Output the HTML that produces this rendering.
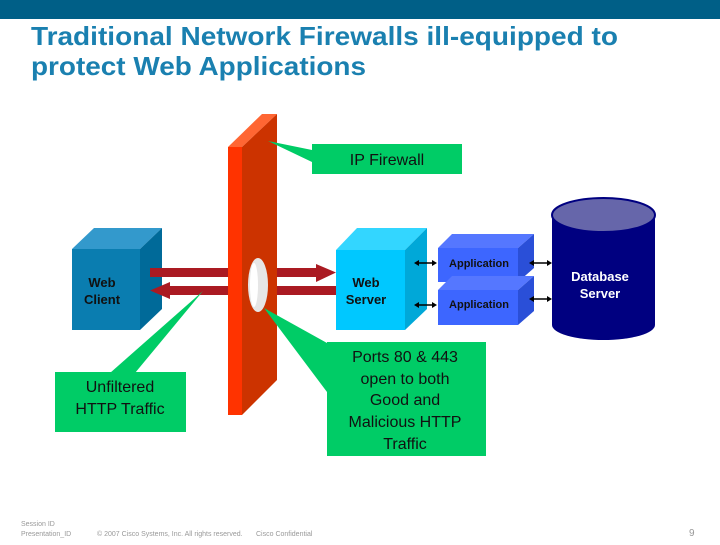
<!DOCTYPE html>
<html><head><style>
body{margin:0;width:720px;height:540px;overflow:hidden;background:#fff;font-family:"Liberation Sans",sans-serif;}
</style></head><body>
<svg width="720" height="540" viewBox="0 0 720 540" xmlns="http://www.w3.org/2000/svg" font-family="Liberation Sans, sans-serif">
<rect x="0" y="0" width="720" height="19" fill="#005f87"/>
<text x="31" y="45" font-size="26" font-weight="bold" fill="#1a80b0" textLength="587" lengthAdjust="spacingAndGlyphs">Traditional Network Firewalls ill-equipped to</text>
<text x="31" y="75" font-size="26" font-weight="bold" fill="#1a80b0" textLength="335" lengthAdjust="spacingAndGlyphs">protect Web Applications</text>

<!-- Web client cube -->
<polygon points="72,249 94,228 162,228 140,249" fill="#3399cc"/>
<polygon points="140,249 162,228 162,309 140,330" fill="#006a99"/>
<rect x="72" y="249" width="68" height="81" fill="#0a7db0"/>
<text x="102" y="287" font-size="13" font-weight="bold" fill="#111" text-anchor="middle">Web</text>
<text x="102" y="304" font-size="13" font-weight="bold" fill="#111" text-anchor="middle">Client</text>

<!-- Web server cube -->
<polygon points="336,250 357,228 427,228 405,250" fill="#33d6ff"/>
<polygon points="405,250 427,228 427,309 405,330" fill="#00a8d8"/>
<rect x="336" y="250" width="69" height="80" fill="#00c8ff"/>
<text x="366" y="287" font-size="13" font-weight="bold" fill="#111" text-anchor="middle">Web</text>
<text x="366" y="304" font-size="13" font-weight="bold" fill="#111" text-anchor="middle">Server</text>

<!-- arrows -->
<rect x="150" y="268" width="90" height="9" fill="#aa1a22"/>
<rect x="258" y="268" width="60" height="9" fill="#aa1a22"/>
<polygon points="316,264 336,272.5 316,282" fill="#aa1a22"/>
<rect x="168" y="286" width="80" height="9" fill="#aa1a22"/>
<rect x="258" y="286" width="78" height="9" fill="#aa1a22"/>
<polygon points="170,282 150,290.5 170,299" fill="#aa1a22"/>

<!-- firewall -->
<polygon points="228,147 262,114 277,114 242,147" fill="#ff6633"/>
<polygon points="242,147 277,114 277,380 242,415" fill="#cc3300"/>
<rect x="228" y="147" width="14" height="268" fill="#ff3300"/>
<ellipse cx="258" cy="285" rx="10" ry="27" fill="#e6e6e6"/>
<ellipse cx="254" cy="285" rx="4" ry="22" fill="#fff"/>

<!-- applications -->
<g>
<polygon points="438,248 452,234 534,234 518,248" fill="#5577ff"/>
<polygon points="518,248 534,234 534,268 518,282" fill="#2a4fd8"/>
<rect x="438" y="248" width="80" height="34" fill="#3d66ff"/>
<text x="479" y="267" font-size="11" font-weight="bold" fill="#111" text-anchor="middle">Application</text>
<polygon points="438,290 452,276 534,276 518,290" fill="#5577ff"/>
<polygon points="518,290 534,276 534,311 518,325" fill="#2a4fd8"/>
<rect x="438" y="290" width="80" height="35" fill="#3d66ff"/>
<text x="479" y="308" font-size="11" font-weight="bold" fill="#111" text-anchor="middle">Application</text>
</g>
<g stroke="#000" stroke-width="1.5" fill="#000">
<line x1="417" y1="263" x2="434" y2="263"/><line x1="417" y1="305" x2="434" y2="305"/>
<line x1="532" y1="263" x2="549" y2="263"/><line x1="532" y1="299" x2="549" y2="299"/>
</g>
<g fill="#000">
<polygon points="414,263 419,260 419,266"/><polygon points="437,263 432,260 432,266"/>
<polygon points="414,305 419,302 419,308"/><polygon points="437,305 432,302 432,308"/>
<polygon points="529,263 534,260 534,266"/><polygon points="552,263 547,260 547,266"/>
<polygon points="529,299 534,296 534,302"/><polygon points="552,299 547,296 547,302"/>
</g>

<!-- database -->
<rect x="552" y="215" width="103" height="110" fill="#000080"/>
<ellipse cx="603.5" cy="325" rx="51.5" ry="15" fill="#000080"/>
<ellipse cx="603.5" cy="215" rx="51.5" ry="17" fill="#6666aa" stroke="#000080" stroke-width="2"/>
<text x="600" y="281" font-size="13" font-weight="bold" fill="#fff" text-anchor="middle">Database</text>
<text x="600" y="298" font-size="13" font-weight="bold" fill="#fff" text-anchor="middle">Server</text>

<!-- callouts -->
<polygon points="268,141 312,150 312,162" fill="#00cc66"/>
<rect x="312" y="144" width="150" height="30" fill="#00cc66"/>
<text x="387" y="165" font-size="16" fill="#111" text-anchor="middle">IP Firewall</text>

<polygon points="203,291 110,373 135,373" fill="#00cc66"/>
<rect x="55" y="372" width="131" height="60" fill="#00cc66"/>
<text x="120" y="392" font-size="16" fill="#111" text-anchor="middle">Unfiltered</text>
<text x="120" y="414" font-size="16" fill="#111" text-anchor="middle">HTTP Traffic</text>

<polygon points="264,308 327,343 327,392" fill="#00cc66"/>
<rect x="327" y="342" width="159" height="114" fill="#00cc66"/>
<g font-size="16" fill="#111" text-anchor="middle">
<text x="405" y="362">Ports 80 &amp; 443</text>
<text x="405" y="384">open to both</text>
<text x="405" y="405">Good and</text>
<text x="405" y="427">Malicious HTTP</text>
<text x="405" y="449">Traffic</text>
</g>

<!-- footer -->
<g font-size="7" fill="#999">
<text x="21" y="526">Session ID</text>
<text x="21" y="536">Presentation_ID</text>
<text x="97" y="536">© 2007 Cisco Systems, Inc. All rights reserved.</text>
<text x="256" y="536">Cisco Confidential</text>
</g>
<text x="689" y="536" font-size="10" fill="#999">9</text>
</svg>
</body></html>
